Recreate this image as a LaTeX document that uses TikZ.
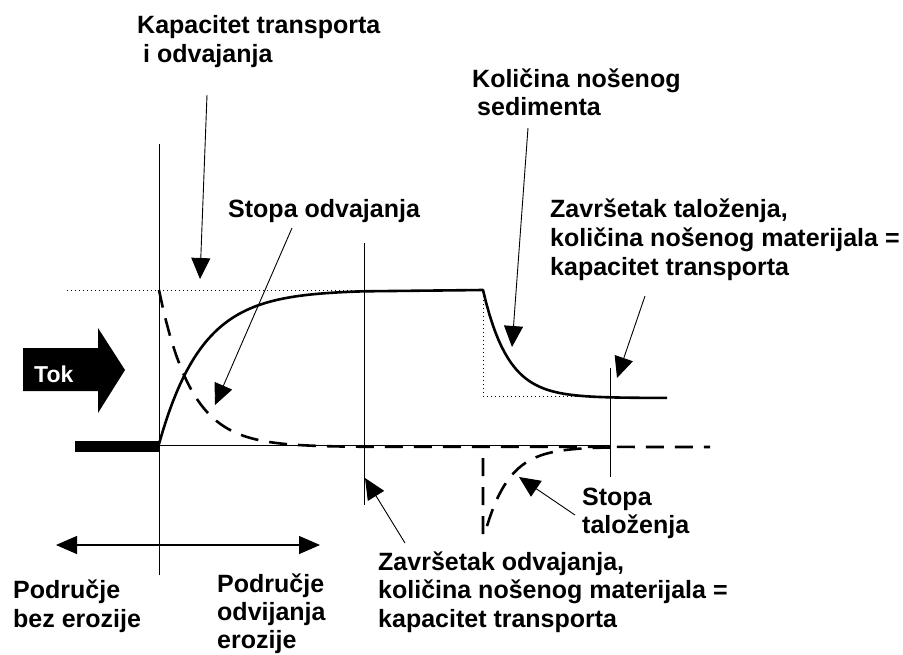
\documentclass[tikz,border=0pt]{standalone}
\usepackage{fontspec}
\setmainfont{Liberation Sans}
\usetikzlibrary{arrows.meta}
\begin{document}
\begin{tikzpicture}[x=1pt,y=-1pt,
  lbl/.style={font=\bfseries\fontsize{25}{29}\selectfont, anchor=base west, inner sep=0pt},
  rule/.style={line width=1pt},
  ptr/.style={line width=0.9pt, -{Triangle[length=21pt,width=19pt]}},
  dblptr/.style={line width=1.2pt, {Triangle[length=21pt,width=18pt]}-{Triangle[length=21pt,width=18pt]}},
  curve/.style={line width=2.6pt},
  dcurve/.style={line width=2.6pt, dash pattern=on 18pt off 11pt},
  dots/.style={line width=1pt, dash pattern=on 1pt off 3pt}]
\useasboundingbox (0,0) rectangle (903,654);

% labels
\node[lbl] (kap1) at (137,33) {Kapacitet transporta};
\node[lbl] (kap2) at (143,62) {i odvajanja};
\node[lbl] (sto) at (228,217) {Stopa odvajanja};
\node[lbl] (kol1) at (472,87) {Količina nošenog};
\node[lbl] (kol2) at (477,115) {sedimenta};
\node[lbl] (zt1) at (550,217) {Završetak taloženja,};
\node[lbl] (zt2) at (550,246) {količina nošenog materijala =};
\node[lbl] (zt3) at (550,275) {kapacitet transporta};
\node[lbl] (st1) at (582,505) {Stopa};
\node[lbl] (st2) at (582,533) {taloženja};
\node[lbl] (zo1) at (378,570) {Završetak odvajanja,};
\node[lbl] (zo2) at (378,598) {količina nošenog materijala =};
\node[lbl] (zo3) at (378,627) {kapacitet transporta};
\node[lbl] (pb1) at (13,598) {Područje};
\node[lbl] (pb2) at (13,627) {bez erozije};
\node[lbl] (po1) at (217,592) {Područje};
\node[lbl] (po2) at (217,620) {odvijanja};
\node[lbl] (po3) at (217,648) {erozije};

% Tok block arrow
\fill (23,348) -- (98,348) -- (98,328) -- (125,370) -- (98,413) -- (98,391) -- (23,391) -- cycle;
\node[lbl, text=white, font=\bfseries\fontsize{23}{27}\selectfont] (tok) at (34,382) {Tok};

% vertical guide lines
\coordinate (v1t) at (159,144); \coordinate (v1b) at (159,575);
\coordinate (v2t) at (364,243); \coordinate (v2b) at (364,505);
\coordinate (v3t) at (610,368); \coordinate (v3b) at (610,477);
\draw[rule] (v1t) -- (v1b);
\draw[rule] (v2t) -- (v2b);
\draw[rule] (v3t) -- (v3b);

% thick bar and axis
\fill (75,441) rectangle (159,452);
\coordinate (ax0) at (159,445); \coordinate (ax1) at (610,445);
\draw[rule] (ax0) -- (ax1);

% dotted capacity lines
\coordinate (d0) at (67,290); \coordinate (d1) at (364,290);
\draw[dots] (d0) -- (d1);
\coordinate (d2) at (483,292); \coordinate (d3) at (483,396); \coordinate (d4) at (610,396);
\draw[dots] (d2) -- (d3) -- (d4);

% solid sediment load curve
\draw[curve, line join=round] plot[domain=159:364, samples=60] (\x, {444-154*(1-exp(-(\x-159)/43))})
  -- (483,290)
  -- plot[domain=483:667, samples=60] (\x, {398-108*exp(-(\x-483)/25)});

% dashed erosion rate
\draw[dcurve] plot[domain=159:364, samples=60] (\x, {447-157*exp(-(\x-159)/32)}) -- (710,447);

% dashed deposition rate
\draw[dcurve] (483,458) -- (483,535)
  -- plot[domain=485:610, samples=60] (\x, {447+86*exp(-(\x-485)/24)});

% pointers
\coordinate (pk0) at (207,95);  \coordinate (pk1) at (200,279);
\draw[ptr] (pk0) -- (pk1);
\coordinate (ps0) at (292,228); \coordinate (ps1) at (215,405);
\draw[ptr] (ps0) -- (ps1);
\coordinate (pq0) at (528,128); \coordinate (pq1) at (512,347);
\draw[ptr] (pq0) -- (pq1);
\coordinate (pz0) at (645,296); \coordinate (pz1) at (617,378);
\draw[ptr] (pz0) -- (pz1);
\coordinate (po0) at (405,543); \coordinate (poe) at (365,478);
\draw[ptr] (po0) -- (poe);
\coordinate (pt0) at (575,515); \coordinate (pt1) at (519,477);
\draw[ptr] (pt0) -- (pt1);

% region double arrow
\coordinate (r0) at (56,545); \coordinate (r1) at (320,545);
\draw[dblptr] (r0) -- (r1);
\end{tikzpicture}
\end{document}
